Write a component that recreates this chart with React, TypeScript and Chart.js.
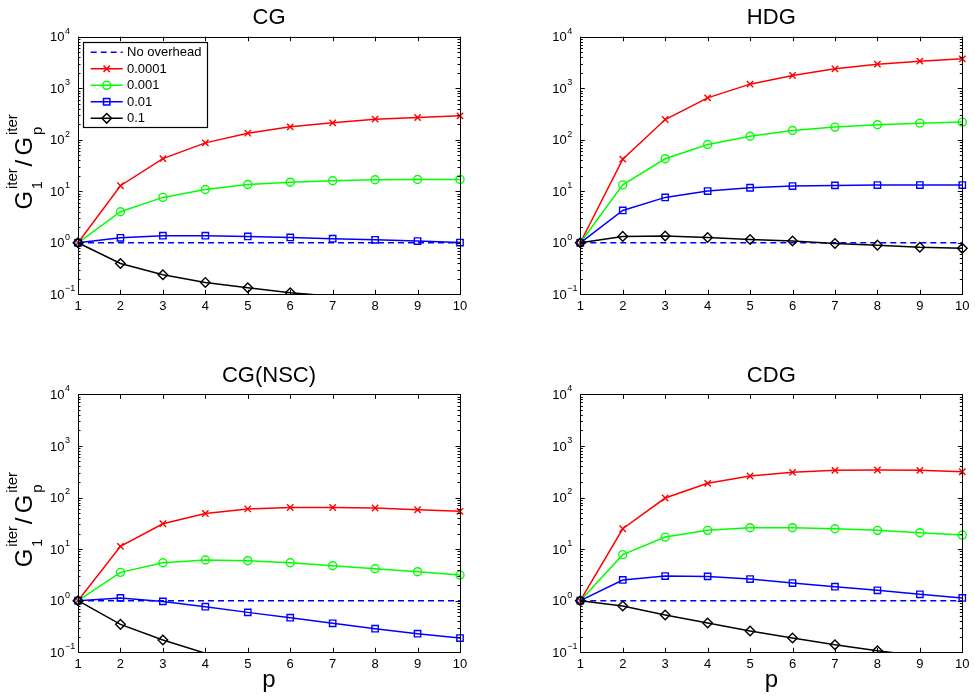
import React, { useEffect, useRef } from 'react';
import { Chart, registerables } from 'chart.js';
Chart.register(...registerables);

// ---------- data ----------
const P = [1, 2, 3, 4, 5, 6, 7, 8, 9, 10];
const SERIES_LABELS = ['No overhead', '0.0001', '0.001', '0.01', '0.1'];
const Y_TICKS = [0.1, 1, 10, 100, 1000, 10000];
const Y_TICK_EXP = ['\u22121', '0', '1', '2', '3', '4'];
const X_TICKS = [1, 2, 3, 4, 5, 6, 7, 8, 9, 10];

const NO_OVERHEAD = [1, 1, 1, 1, 1, 1, 1, 1, 1, 1];

const CG_1E4 = [1, 12.8, 43, 87, 134, 178, 213, 251, 270, 291];
const CG_1E3 = [1, 4.0, 7.6, 10.8, 13.5, 15.0, 16.0, 16.7, 16.9, 17.0];
const CG_1E2 = [1, 1.25, 1.37, 1.37, 1.33, 1.27, 1.2, 1.14, 1.08, 1.01];
const CG_1E1 = [1, 0.397, 0.239, 0.17, 0.134, 0.107, 0.092, 0.08, 0.07, 0.062];

const HDG_1E4 = [1, 42, 247, 651, 1199, 1767, 2379, 2929, 3350, 3720];
const HDG_1E3 = [1, 13.3, 42.7, 81, 117, 151, 176, 195, 210, 220];
const HDG_1E2 = [1, 4.24, 7.6, 10.1, 11.7, 12.6, 13.0, 13.2, 13.2, 13.2];
const HDG_1E1 = [1, 1.33, 1.35, 1.27, 1.16, 1.08, 0.97, 0.9, 0.82, 0.78];

const NSC_1E4 = [1, 11.3, 31, 49, 60, 64, 64, 62.5, 58, 54];
const NSC_1E3 = [1, 3.54, 5.45, 6.14, 5.96, 5.45, 4.77, 4.17, 3.65, 3.14];
const NSC_1E2 = [1, 1.13, 0.97, 0.765, 0.594, 0.469, 0.364, 0.287, 0.229, 0.189];
const NSC_1E1 = [1, 0.348, 0.173, 0.096, 0.058, 0.036, 0.023, 0.015, 0.01, 0.007];

const CDG_1E4 = [1, 24.8, 97.6, 188, 261, 307, 336, 341, 336, 316];
const CDG_1E3 = [1, 7.8, 17.1, 23.1, 26, 26, 24.8, 23.1, 20.8, 18.7];
const CDG_1E2 = [1, 2.52, 3.0, 2.96, 2.63, 2.2, 1.87, 1.59, 1.33, 1.13];
const CDG_1E1 = [1, 0.788, 0.528, 0.369, 0.258, 0.189, 0.14, 0.107, 0.085, 0.065];

// ---------- styles ----------
const COLORS = ['#0000ff', '#ff0000', '#00ff00', '#0000ff', '#000000'];
const POINT_STYLES: any[] = [false, 'crossRot', 'circle', 'rect', 'rectRot'];
const POINT_RADII = [0, 4.5, 4, 4.5, 4.8];
const DRAW_ORDER = [4, 3, 2, 1, 0];
const FONT = '"Liberation Sans", Arial, Helvetica, sans-serif';
const Y_MIN = 0.1;
const Y_MAX = 10000;

type Panel = {
  title: string;
  series: number[][];
  left: number;
  top: number;
  width: number;
  height: number;
  padding: { left: number; right: number; top: number; bottom: number };
  yLabel: boolean;
  xLabel: boolean;
  legend: boolean;
};

const PANELS: Panel[] = [
  {
    title: 'CG', series: [NO_OVERHEAD, CG_1E4, CG_1E3, CG_1E2, CG_1E1],
    left: 0, top: 0, width: 487, height: 340,
    padding: { left: 78, right: 27, top: 36.7, bottom: 45.7 },
    yLabel: true, xLabel: false, legend: true,
  },
  {
    title: 'HDG', series: [NO_OVERHEAD, HDG_1E4, HDG_1E3, HDG_1E2, HDG_1E1],
    left: 487, top: 0, width: 488, height: 340,
    padding: { left: 93.3, right: 12.7, top: 36.7, bottom: 45.7 },
    yLabel: false, xLabel: false, legend: false,
  },
  {
    title: 'CG(NSC)', series: [NO_OVERHEAD, NSC_1E4, NSC_1E3, NSC_1E2, NSC_1E1],
    left: 0, top: 340, width: 487, height: 356,
    padding: { left: 78, right: 27, top: 54.3, bottom: 43.7 },
    yLabel: true, xLabel: true, legend: false,
  },
  {
    title: 'CDG', series: [NO_OVERHEAD, CDG_1E4, CDG_1E3, CDG_1E2, CDG_1E1],
    left: 487, top: 340, width: 488, height: 356,
    padding: { left: 93.3, right: 12.7, top: 54.3, bottom: 43.7 },
    yLabel: false, xLabel: true, legend: false,
  },
];

function drawMarker(ctx: CanvasRenderingContext2D, style: any, x: number, y: number, r: number) {
  ctx.beginPath();
  if (style === 'crossRot') {
    const d = r * Math.SQRT1_2;
    ctx.moveTo(x - d, y - d); ctx.lineTo(x + d, y + d);
    ctx.moveTo(x + d, y - d); ctx.lineTo(x - d, y + d);
  } else if (style === 'circle') {
    ctx.arc(x, y, r, 0, Math.PI * 2);
  } else if (style === 'rect') {
    const s = r * Math.SQRT1_2;
    ctx.rect(x - s, y - s, 2 * s, 2 * s);
  } else if (style === 'rectRot') {
    ctx.moveTo(x - r, y); ctx.lineTo(x, y - r); ctx.lineTo(x + r, y); ctx.lineTo(x, y + r); ctx.closePath();
  }
  ctx.stroke();
}

function makePlugin(panel: Panel) {
  return {
    id: 'panelDecor',
    afterDatasetsDraw(chart: any) {
      const ctx: CanvasRenderingContext2D = chart.ctx;
      const ca = chart.chartArea;
      const xs = chart.scales.x;
      const ys = chart.scales.y;
      ctx.save();
      ctx.strokeStyle = '#000';
      ctx.fillStyle = '#000';
      ctx.lineWidth = 1;
      // box
      ctx.strokeRect(Math.round(ca.left) + 0.5, Math.round(ca.top) + 0.5,
        Math.round(ca.right) - Math.round(ca.left), Math.round(ca.bottom) - Math.round(ca.top));
      // x ticks (inward, bottom and top)
      ctx.beginPath();
      for (const v of X_TICKS) {
        const px = Math.round(xs.getPixelForValue(v)) + 0.5;
        ctx.moveTo(px, ca.bottom); ctx.lineTo(px, ca.bottom - 4.5);
        ctx.moveTo(px, ca.top); ctx.lineTo(px, ca.top + 4.5);
      }
      // y ticks major + minor (left and right)
      for (let d = -1; d <= 3; d++) {
        for (let k = 1; k <= 9; k++) {
          const v = k * Math.pow(10, d);
          const py = Math.round(ys.getPixelForValue(v)) + 0.5;
          const len = k === 1 ? 4.5 : 2.5;
          ctx.moveTo(ca.left, py); ctx.lineTo(ca.left + len, py);
          ctx.moveTo(ca.right, py); ctx.lineTo(ca.right - len, py);
        }
      }
      {
        const py = Math.round(ys.getPixelForValue(Y_MAX)) + 0.5;
        ctx.moveTo(ca.left, py); ctx.lineTo(ca.left + 4.5, py);
        ctx.moveTo(ca.right, py); ctx.lineTo(ca.right - 4.5, py);
      }
      ctx.stroke();

      // x tick labels
      ctx.font = `13px ${FONT}`;
      ctx.textAlign = 'center';
      ctx.textBaseline = 'alphabetic';
      for (const v of X_TICKS) {
        ctx.fillText(String(v), xs.getPixelForValue(v), ca.bottom + 15.7);
      }
      // y tick labels 10^n
      ctx.textAlign = 'left';
      Y_TICKS.forEach((v, i) => {
        const py = ys.getPixelForValue(v);
        const x0 = ca.left - 28;
        ctx.font = `13px ${FONT}`;
        ctx.fillText('10', x0, py + 4.6);
        const w = ctx.measureText('10').width;
        ctx.font = `9px ${FONT}`;
        ctx.fillText(Y_TICK_EXP[i], x0 + w + 0.5, py - 3.2);
      });

      // title
      ctx.font = `22px ${FONT}`;
      ctx.textAlign = 'center';
      ctx.fillText(panel.title, (ca.left + ca.right) / 2, ca.top - 12.7);

      // x label
      if (panel.xLabel) {
        ctx.font = `24px ${FONT}`;
        ctx.fillText('p', (ca.left + ca.right) / 2, ca.bottom + 35);
      }

      // y label
      if (panel.yLabel) {
        ctx.save();
        ctx.translate(ca.left - 46, (ca.top + ca.bottom) / 2 + 44);
        ctx.rotate(-Math.PI / 2);
        ctx.textAlign = 'left';
        ctx.font = `24px ${FONT}`;
        ctx.fillText('G', 0, 0);
        ctx.font = `15px ${FONT}`;
        ctx.fillText('iter', 20.5, -15.5);
        ctx.font = `14px ${FONT}`;
        ctx.fillText('1', 20.5, 10);
        ctx.font = `24px ${FONT}`;
        ctx.fillText('/', 43, 0);
        ctx.fillText('G', 54, 0);
        ctx.font = `15px ${FONT}`;
        ctx.fillText('iter', 74.5, -15.5);
        ctx.fillText('p', 74.5, 9.5);
        ctx.restore();
      }

      // legend
      if (panel.legend) {
        const bx = ca.left + 5.3;
        const by = ca.top + 5.6;
        const bw = 124.4;
        const bh = 85.4;
        ctx.fillStyle = '#fff';
        ctx.fillRect(bx, by, bw, bh);
        ctx.strokeStyle = '#000';
        ctx.lineWidth = 1.2;
        ctx.strokeRect(Math.round(bx) + 0.5, Math.round(by) + 0.5, Math.round(bw), Math.round(bh));
        ctx.font = `13px ${FONT}`;
        ctx.textAlign = 'left';
        ctx.textBaseline = 'middle';
        SERIES_LABELS.forEach((lab, i) => {
          const ry = by + 10 + i * 16.5;
          ctx.strokeStyle = COLORS[i];
          ctx.lineWidth = 1.5;
          ctx.setLineDash(i === 0 ? [6, 4] : []);
          ctx.beginPath();
          ctx.moveTo(bx + 7.4, ry); ctx.lineTo(bx + 39.4, ry);
          ctx.stroke();
          ctx.setLineDash([]);
          if (POINT_STYLES[i]) {
            drawMarker(ctx, POINT_STYLES[i], bx + 23.4, ry, POINT_RADII[i]);
          }
          ctx.fillStyle = '#000';
          ctx.fillText(lab, bx + 43.7, ry + 0.5);
        });
      }
      ctx.restore();
    },
  };
}

function PanelChart({ panel }: { panel: Panel }) {
  const ref = useRef<HTMLCanvasElement | null>(null);
  useEffect(() => {
    if (!ref.current) return;
    const datasets = panel.series.map((vals, i) => ({
      label: SERIES_LABELS[i],
      data: P.map((p, j) => ({ x: p, y: vals[j] })),
      borderColor: COLORS[i],
      backgroundColor: COLORS[i],
      pointBackgroundColor: 'rgba(0,0,0,0)',
      pointBorderColor: COLORS[i],
      pointStyle: POINT_STYLES[i],
      pointRadius: (c: any) => (c.raw && c.raw.y < Y_MIN ? 0 : POINT_RADII[i]),
      pointBorderWidth: 1.4,
      borderWidth: 1.5,
      borderDash: i === 0 ? [6, 4] : [],
      tension: 0,
      fill: false,
      order: DRAW_ORDER[i],
      clip: { left: 8, right: 8, top: 8, bottom: 0 },
    }));
    const chart = new Chart(ref.current, {
      type: 'line',
      data: { datasets },
      options: {
        responsive: false,
        animation: false,
        devicePixelRatio: 1,
        layout: { padding: panel.padding },
        scales: {
          x: { type: 'linear', min: 1, max: 10, display: false },
          y: { type: 'logarithmic', min: Y_MIN, max: Y_MAX, display: false },
        },
        plugins: {
          legend: { display: false },
          tooltip: { enabled: false },
          title: { display: false },
        },
        events: [],
      },
      plugins: [makePlugin(panel)],
    } as any);
    return () => chart.destroy();
  }, [panel]);
  return (
    <canvas
      ref={ref}
      width={panel.width}
      height={panel.height}
      style={{ position: 'absolute', left: panel.left, top: panel.top, width: panel.width, height: panel.height }}
    />
  );
}

export default function App() {
  return (
    <div style={{ position: 'absolute', left: 0, top: 0, width: 975, height: 696, background: '#fff', overflow: 'hidden' }}>
      {PANELS.map((p) => (
        <PanelChart key={p.title} panel={p} />
      ))}
    </div>
  );
}
